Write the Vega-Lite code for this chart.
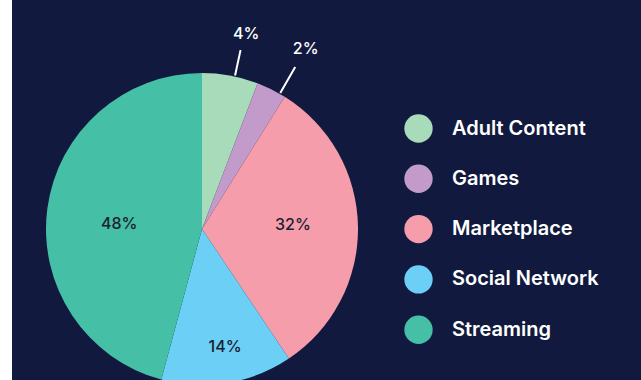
{
  "$schema": "https://vega.github.io/schema/vega-lite/v6.json",
  "autosize": "none",
  "width": 629,
  "height": 380,
  "padding": {"left": 12, "top": 0, "right": 0, "bottom": 0},
  "background": "#ffffff",
  "view": {"fill": "#111a3e", "stroke": null},
  "config": {
    "view": {"stroke": null, "fill": "#111a3e"},
    "font": "Inter"
  },
  "data": {
    "values": [
      {"category": "Adult Content", "value": 5.8, "label": "4%"},
      {"category": "Games", "value": 3.1, "label": "2%"},
      {"category": "Marketplace", "value": 31.7, "label": "32%"},
      {"category": "Social Network", "value": 13.6, "label": "14%"},
      {"category": "Streaming", "value": 45.8, "label": "48%"}
    ]
  },
  "transform": [
    {"stack": "value", "groupby": [], "sort": [{"field": "category", "order": "ascending"}], "as": ["s0", "s1"]},
    {"calculate": "(datum.s0 + datum.s1) / 2", "as": "mid"}
  ],
  "layer": [
    {
      "mark": {"type": "arc", "outerRadius": 156, "x": 190, "y": 229},
      "encoding": {
        "theta": {"field": "s0", "type": "quantitative", "scale": {"domain": [0, 100]}},
        "theta2": {"field": "s1"},
        "color": {
          "field": "category",
          "type": "nominal",
          "scale": {
            "domain": ["Adult Content", "Games", "Marketplace", "Social Network", "Streaming"],
            "range": ["#a8dbb9", "#c29bcb", "#f59dab", "#6ccff5", "#45bfa6"]
          },
          "legend": {
            "orient": "none",
            "legendX": 392,
            "legendY": 114,
            "title": null,
            "symbolType": "circle",
            "symbolSize": 804,
            "symbolStrokeWidth": 0,
            "symbolOpacity": 1,
            "rowPadding": 21.3,
            "labelOffset": 19,
            "labelColor": "#ffffff",
            "labelFontSize": 20,
            "labelFont": "Inter",
            "labelFontWeight": 600,
            "labelLimit": 300
          }
        }
      }
    },
    {
      "transform": [{"filter": "datum.category == 'Streaming'"}],
      "mark": {"type": "text", "radius": 83, "thetaOffset": -0.07, "x": 190, "y": 229, "fontSize": 16, "fontWeight": 500, "color": "#1c2033", "align": "center", "baseline": "middle"},
      "encoding": {
        "theta": {"field": "mid", "type": "quantitative", "scale": {"domain": [0, 100]}},
        "text": {"field": "label"}
      }
    },
    {
      "transform": [{"filter": "datum.category == 'Marketplace'"}],
      "mark": {"type": "text", "radius": 91, "thetaOffset": -0.03, "x": 190, "y": 229, "fontSize": 16, "fontWeight": 500, "color": "#1c2033", "align": "center", "baseline": "middle"},
      "encoding": {
        "theta": {"field": "mid", "type": "quantitative", "scale": {"domain": [0, 100]}},
        "text": {"field": "label"}
      }
    },
    {
      "transform": [{"filter": "datum.category == 'Social Network'"}],
      "mark": {"type": "text", "radius": 120, "thetaOffset": -0.03, "x": 190, "y": 229, "fontSize": 16, "fontWeight": 500, "color": "#1c2033", "align": "center", "baseline": "middle"},
      "encoding": {
        "theta": {"field": "mid", "type": "quantitative", "scale": {"domain": [0, 100]}},
        "text": {"field": "label"}
      }
    },
    {
      "transform": [{"filter": "datum.category == 'Adult Content'"}],
      "mark": {"type": "text", "radius": 200, "thetaOffset": 0.04, "x": 190, "y": 229, "fontSize": 16, "fontWeight": 500, "color": "#ffffff", "align": "center", "baseline": "middle"},
      "encoding": {
        "theta": {"field": "mid", "type": "quantitative", "scale": {"domain": [0, 100]}},
        "text": {"field": "label"}
      }
    },
    {
      "transform": [{"filter": "datum.category == 'Games'"}],
      "mark": {"type": "text", "radius": 208, "thetaOffset": 0.06, "x": 190, "y": 229, "fontSize": 16, "fontWeight": 500, "color": "#ffffff", "align": "center", "baseline": "middle"},
      "encoding": {
        "theta": {"field": "mid", "type": "quantitative", "scale": {"domain": [0, 100]}},
        "text": {"field": "label"}
      }
    },
    {
      "transform": [{"filter": "datum.category == 'Adult Content'"}],
      "mark": {"type": "arc", "innerRadius": 157, "outerRadius": 183, "thetaOffset": 0.03, "theta2Offset": 0.03, "x": 190, "y": 229, "fill": null, "stroke": "#ffffff", "strokeWidth": 2},
      "encoding": {
        "theta": {"field": "mid", "type": "quantitative", "scale": {"domain": [0, 100]}},
        "theta2": {"field": "mid"}
      }
    },
    {
      "transform": [{"filter": "datum.category == 'Games'"}],
      "mark": {"type": "arc", "innerRadius": 157, "outerRadius": 187, "thetaOffset": 0.06, "theta2Offset": 0.06, "x": 190, "y": 229, "fill": null, "stroke": "#ffffff", "strokeWidth": 2},
      "encoding": {
        "theta": {"field": "mid", "type": "quantitative", "scale": {"domain": [0, 100]}},
        "theta2": {"field": "mid"}
      }
    }
  ]
}
